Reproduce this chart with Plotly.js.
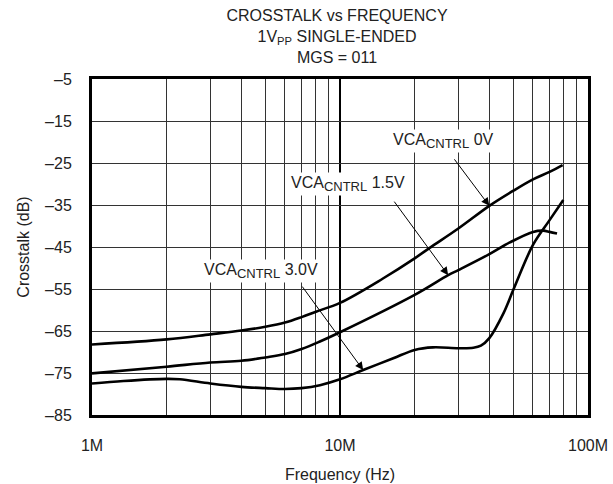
<!DOCTYPE html>
<html>
<head>
<meta charset="utf-8">
<script src="https://cdn.plot.ly/plotly-3.0.1.min.js"></script>
<style>html,body{margin:0;padding:0;background:#fff;}#chart{width:613px;height:484px;}</style>
</head>
<body>
<div id="chart"></div>
<script>
// ---- data ----
var freq0V = [1e6, 2e6, 3e6, 4e6, 5e6, 6e6, 7e6, 8e6, 10e6, 14.9e6, 20e6, 23e6, 30e6, 40e6, 50e6, 60e6, 70e6, 79e6];
var xt0V   = [-68.2, -67.0, -65.8, -64.9, -64.0, -63.0, -61.7, -60.4, -58.3, -52.5, -47.7, -45.2, -40.6, -35.2, -31.6, -28.9, -27.1, -25.5];

var freq15V = [1e6, 2e6, 3e6, 4e6, 5e6, 6e6, 7e6, 8.3e6, 10e6, 20e6, 27.3e6, 30e6, 40e6, 48.4e6, 60e6, 66e6, 70e6, 75e6];
var xt15V   = [-75.1, -73.5, -72.5, -72.1, -71.3, -70.5, -69.3, -67.5, -65.3, -56.4, -51.7, -50.5, -46.7, -43.9, -41.4, -41.1, -41.4, -41.8];

var freq30V = [1e6, 1.34e6, 2e6, 2.26e6, 3e6, 4e6, 5e6, 6e6, 7e6, 8.3e6, 10e6, 12.4e6, 16.4e6, 20e6, 23.7e6, 30e6, 34.5e6, 37e6, 40e6, 45.6e6, 50e6, 60e6, 70e6, 79.5e6];
var xt30V   = [-77.5, -76.9, -76.4, -76.5, -77.5, -78.3, -78.6, -78.8, -78.6, -77.9, -76.5, -74.3, -71.5, -69.5, -68.9, -69.1, -69.0, -68.5, -66.7, -60.8, -55.2, -44.5, -38.6, -33.8];

var xTickVals = [1e6, 1e7, 1e8];
var xTickText = ['1M', '10M', '100M'];
var yTickVals = [-85, -75, -65, -55, -45, -35, -25, -15, -5];
var yTickText = ['\u201385', '\u201375', '\u201365', '\u201355', '\u201345', '\u201335', '\u201325', '\u201315', '\u20135'];

var seriesNames = ['VCA<sub>CNTRL</sub> 0V', 'VCA<sub>CNTRL</sub> 1.5V', 'VCA<sub>CNTRL</sub> 3.0V'];
var titleText = 'CROSSTALK vs FREQUENCY<br>1V<sub>PP</sub> SINGLE-ENDED<br>MGS = 011';
var xTitle = 'Frequency (Hz)';
var yTitle = 'Crosstalk (dB)';

// ---- chart ----
var FONT = 'Arial, "Liberation Sans", sans-serif';
var TXT = '#222';
function lineTrace(x, y, name) {
  return {x: x, y: y, name: name, type: 'scatter', mode: 'lines',
          line: {color: '#000', width: 2.6, shape: 'spline', smoothing: 1.0},
          hoverinfo: 'skip'};
}
var traces = [
  lineTrace(freq0V, xt0V, 'VCA CNTRL 0V'),
  lineTrace(freq15V, xt15V, 'VCA CNTRL 1.5V'),
  lineTrace(freq30V, xt30V, 'VCA CNTRL 3.0V')
];

function labelText(s) {
  return s.replace('<sub>CNTRL</sub>', '<sub><span style="font-size:13px">CNTRL</span></sub>');
}

var annotations = [
  // text labels
  {xref: 'x', yref: 'y', x: 7.419, y: -19.8, text: labelText(seriesNames[0]), showarrow: false,
   bgcolor: '#fff', font: {family: FONT, size: 16, color: TXT}},
  {xref: 'x', yref: 'y', x: 7.031, y: -30.0, text: labelText(seriesNames[1]), showarrow: false,
   bgcolor: '#fff', font: {family: FONT, size: 16, color: TXT}},
  {xref: 'x', yref: 'y', x: 6.681, y: -50.7, text: labelText(seriesNames[2]), showarrow: false,
   bgcolor: '#fff', font: {family: FONT, size: 16, color: TXT}},
  // arrows pointing at curve points
  {xref: 'x', yref: 'y', x: Math.log10(freq0V[13]), y: xt0V[13], text: '', showarrow: true,
   ax: -36, ay: -48, arrowhead: 2, arrowsize: 1.6, arrowwidth: 1, arrowcolor: '#000', standoff: 0},
  {xref: 'x', yref: 'y', x: Math.log10(freq15V[10]), y: xt15V[10], text: '', showarrow: true,
   ax: -55, ay: -75, arrowhead: 2, arrowsize: 1.6, arrowwidth: 1, arrowcolor: '#000', standoff: 0},
  {xref: 'x', yref: 'y', x: Math.log10(freq30V[11]), y: xt30V[11], text: '', showarrow: true,
   ax: -62, ay: -85, arrowhead: 2, arrowsize: 1.6, arrowwidth: 1, arrowcolor: '#000', standoff: 0}
];

var layout = {
  width: 613, height: 484,
  margin: {l: 92, r: 25, t: 79, b: 69, pad: 0},
  paper_bgcolor: '#fff', plot_bgcolor: '#fff',
  showlegend: false,
  font: {family: FONT, size: 16, color: TXT},
  title: {text: titleText, xref: 'paper', x: 0.494, xanchor: 'center',
          yref: 'container', y: 0.956, yanchor: 'top',
          font: {family: FONT, size: 16, color: TXT}},
  xaxis: {
    type: 'log', range: [6, 8],
    tickmode: 'array', tickvals: xTickVals, ticktext: xTickText,
    ticks: 'outside', ticklen: 14, tickcolor: 'rgba(0,0,0,0)',
    tickfont: {family: FONT, size: 16, color: TXT},
    showgrid: true, gridcolor: '#000', gridwidth: 2,
    minor: {dtick: 'D1', showgrid: true, gridcolor: '#333', gridwidth: 1, ticks: ''},
    showline: true, mirror: true, linecolor: '#000', linewidth: 3,
    zeroline: false,
    title: {text: xTitle, standoff: 16, font: {family: FONT, size: 16, color: TXT}}
  },
  yaxis: {
    range: [-85, -5],
    tickmode: 'array', tickvals: yTickVals, ticktext: yTickText,
    ticks: 'outside', ticklen: 14, tickcolor: 'rgba(0,0,0,0)',
    tickfont: {family: FONT, size: 16, color: TXT},
    showgrid: true, gridcolor: '#333', gridwidth: 1,
    showline: true, mirror: true, linecolor: '#000', linewidth: 3,
    zeroline: false,
    title: {text: yTitle, standoff: 12, font: {family: FONT, size: 16, color: TXT}}
  },
  annotations: annotations
};

Plotly.newPlot('chart', traces, layout, {staticPlot: true, displayModeBar: false});
</script>
</body>
</html>
